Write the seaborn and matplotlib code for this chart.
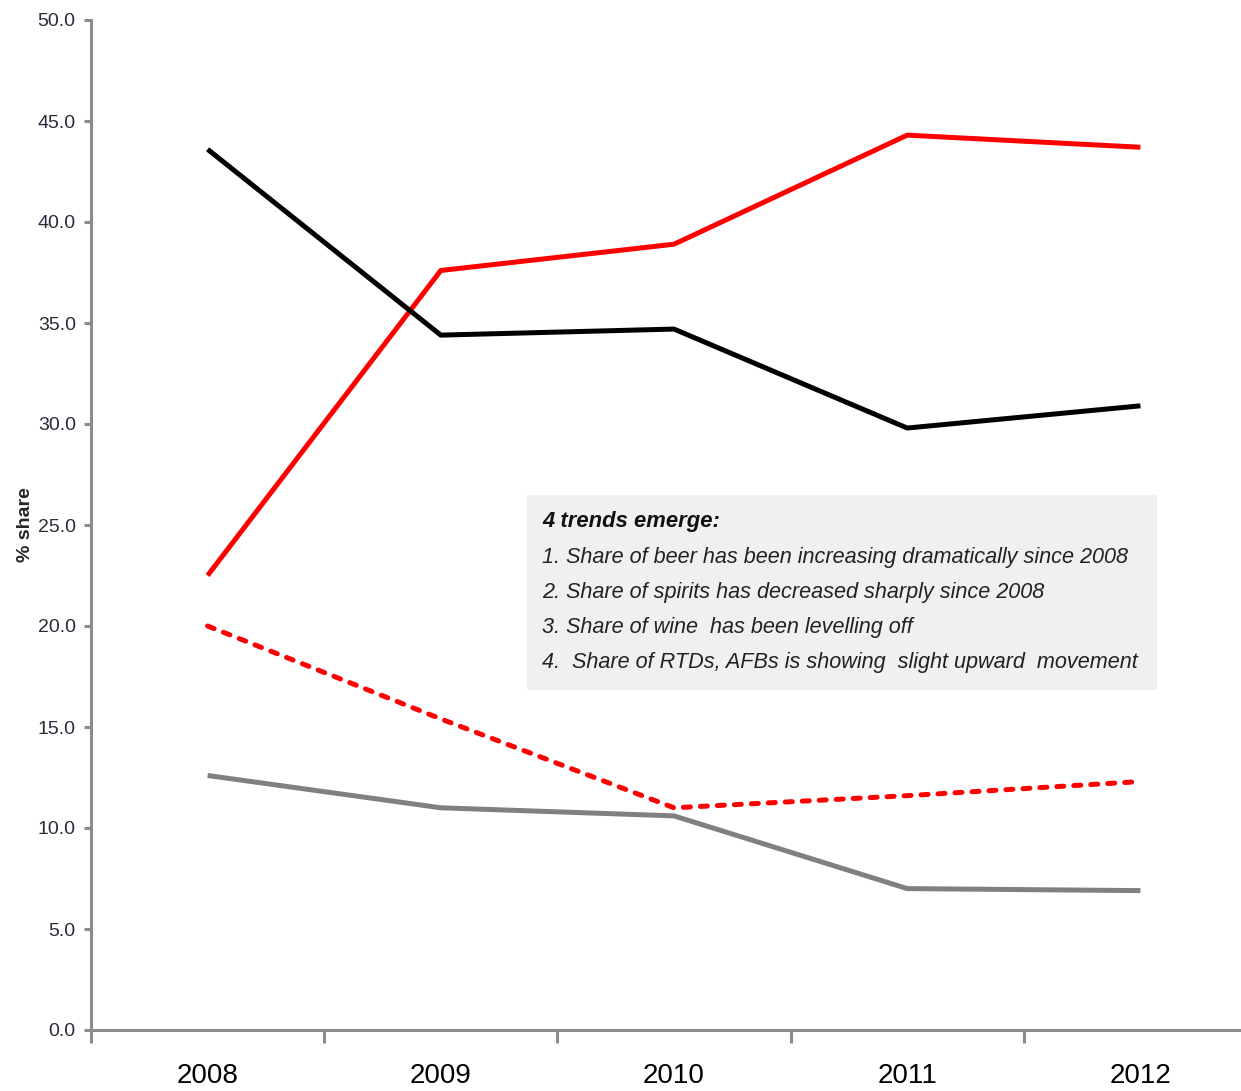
import matplotlib
matplotlib.use("Agg")
import matplotlib.pyplot as plt
from matplotlib.patches import Rectangle
from matplotlib.ticker import FixedLocator, FormatStrFormatter
import seaborn as sns
import pandas as pd

years = ["2008", "2009", "2010", "2011", "2012"]
beer = [22.5, 37.6, 38.9, 44.3, 43.7]
spirits = [43.6, 34.4, 34.7, 29.8, 30.9]
rtds = [20.0, 15.4, 11.0, 11.6, 12.3]
wine = [12.6, 11.0, 10.6, 7.0, 6.9]

series_names = ["Beer", "Spirits", "RTDs, AFBs", "Wine"]
series_values = [beer, spirits, rtds, wine]
series_colors = {"Beer": "#ff0000", "Spirits": "#000000",
                 "RTDs, AFBs": "#ff0000", "Wine": "#808080"}
series_dashes = {"Beer": "", "Spirits": "", "RTDs, AFBs": (1.4, 2.0), "Wine": ""}

notes_title = "4 trends emerge:"
notes = [
    "1. Share of beer has been increasing dramatically since 2008",
    "2. Share of spirits has decreased sharply since 2008",
    "3. Share of wine  has been levelling off",
    "4.  Share of RTDs, AFBs is showing  slight upward  movement",
]

rows = []
for name, vals in zip(series_names, series_values):
    for i, v in enumerate(vals):
        rows.append({"pos": i, "year": years[i], "share": v, "drink": name})
df = pd.DataFrame(rows)

sns.set_theme(style="white")
plt.rcParams["font.family"] = ["Liberation Sans", "DejaVu Sans"]

W, H = 1241, 1091
fig = plt.figure(figsize=(W / 100, H / 100), dpi=100)
left, right, top, bottom = 91, 1257, 20, 1030
ax = fig.add_axes([left / W, 1 - bottom / H, (right - left) / W, (bottom - top) / H])

sns.lineplot(data=df, x="pos", y="share", hue="drink", style="drink",
             palette=series_colors, dashes=series_dashes,
             hue_order=series_names, style_order=series_names,
             linewidth=3.6, legend=False, ax=ax)
for line in ax.get_lines():
    line.set_dash_capstyle("round")
    line.set_solid_capstyle("butt")

ax.set_xlim(-0.5, 4.5)
ax.set_ylim(0, 50)

# category boundaries as major ticks, year labels centred on minor ticks
ax.xaxis.set_major_locator(FixedLocator([-0.5, 0.5, 1.5, 2.5, 3.5, 4.5]))
ax.xaxis.set_minor_locator(FixedLocator(range(len(years))))
ax.set_xticklabels([], minor=False)
ax.set_xticklabels(years, minor=True)
ax.tick_params(axis="x", which="major", direction="out", length=9, width=2.2,
               color="#8c8c8c", bottom=True)
ax.tick_params(axis="x", which="minor", length=0, pad=24, labelsize=20,
               labelcolor="#000000")

ax.yaxis.set_major_locator(FixedLocator([0, 5, 10, 15, 20, 25, 30, 35, 40, 45, 50]))
ax.yaxis.set_major_formatter(FormatStrFormatter("%.1f"))
ax.tick_params(axis="y", direction="out", length=5, width=2.2, color="#8c8c8c",
               left=True, labelsize=14, labelcolor="#2a2a3a", pad=6)

for side in ["top", "right"]:
    ax.spines[side].set_visible(False)
for side in ["left", "bottom"]:
    ax.spines[side].set_color("#8c8c8c")
    ax.spines[side].set_linewidth(2.2)

ax.set_xlabel("")
ax.set_ylabel("")
fig.text(25 / W, 1 - 525 / H, "% share", rotation=90, ha="center", va="center",
         fontsize=14, fontweight="bold")

# annotation panel
bx0, by0, bx1, by1 = 527, 495, 1157, 690
fig.patches.append(Rectangle((bx0 / W, 1 - by1 / H), (bx1 - bx0) / W, (by1 - by0) / H,
                             transform=fig.transFigure, facecolor="#f0f0f0",
                             edgecolor="none", zorder=0))
fig.text(542 / W, 1 - 522 / H, notes_title, ha="left", va="center", fontsize=15.8,
         style="italic", fontweight="bold", color="#111111")
for k, line in enumerate(notes):
    fig.text(542 / W, 1 - (557 + 35.3 * k) / H, line, ha="left", va="center",
             fontsize=15.6, style="italic", color="#222222")

fig.savefig("out.png", dpi=100)
